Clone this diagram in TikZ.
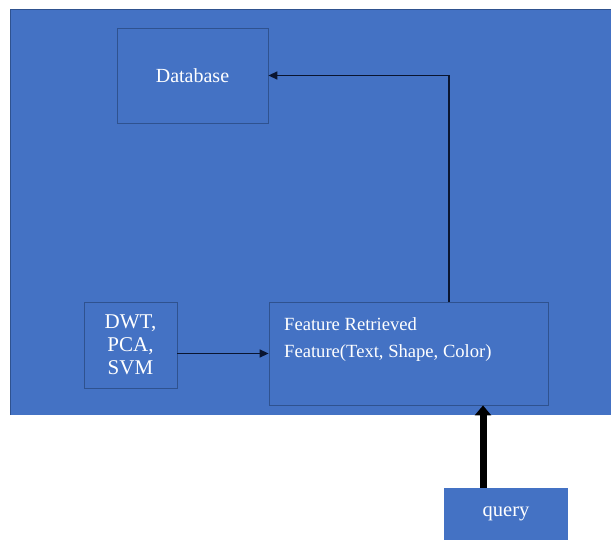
\documentclass[tikz,border=0pt]{standalone}
\usepackage{fontspec}
\setmainfont{Liberation Serif}
\usepackage{xcolor}
\usepackage{tikz}
\usetikzlibrary{arrows.meta}

\definecolor{fondo}{HTML}{4472C4}
\definecolor{borde}{HTML}{2F528F}
\definecolor{flecha}{HTML}{0A1530}

\begin{document}
\begin{tikzpicture}[x=1pt, y=-1pt,
  caja/.style={draw=borde, fill=fondo, line width=0.8pt, text=white, inner sep=0pt},
  conector/.style={draw=flecha, line width=1.4pt, -{Triangle[width=8pt,length=9pt]}}]
  % Fondo
  \useasboundingbox (0,0) rectangle (611,540);
  \fill[white] (0,0) rectangle (611,540);
  \fill[fondo] (10,9) rectangle (611,415);
  \draw[borde, line width=0.8pt] (10,415) -- (10,9) -- (611,9);

  % Cajas
  \node[caja, minimum width=151pt, minimum height=95pt, font=\fontsize{20}{22}\selectfont] (db) at (192.5,75.5) {Database};
  \node[caja, minimum width=93pt, minimum height=86pt, align=center, font=\fontsize{21}{23}\selectfont] (dwt) at (130.5,345) {DWT,\\PCA,\\SVM};
  \node[caja, minimum width=279pt, minimum height=103pt] (feat) at (408.5,353.5) {};
  \node[text=white, anchor=base west, align=left, inner sep=0pt, font=\fontsize{18.6}{27}\selectfont] (featxt) at (284,357) {Feature Retrieved\\Feature(Text, Shape, Color)};
  \node[caja, draw=none, minimum width=124pt, minimum height=52pt, font=\fontsize{20.5}{22}\selectfont] (query) at (506,514) {query};

  % Puntos de giro
  \coordinate (giro) at (449,75.5);
  \coordinate (sube) at (483,488);

  % Conectores
  \draw[conector] (feat.north -| giro) -- (giro) -- (db.east);
  \draw[conector] (dwt.east |- feat.west) -- (feat.west);
  \draw[draw=black, line width=7pt, -{Triangle[width=16pt,length=10pt]}] (query.north -| sube) -- (feat.south -| sube);
\end{tikzpicture}
\end{document}
